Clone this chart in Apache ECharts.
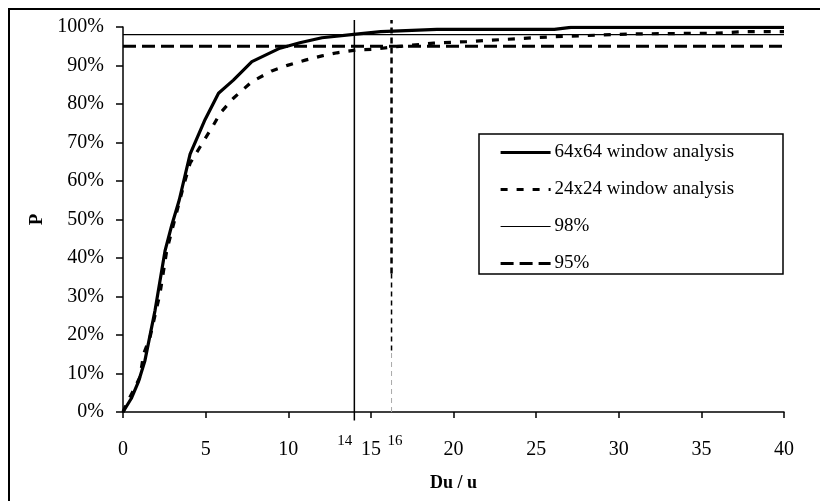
<!DOCTYPE html>
<html>
<head>
<meta charset="utf-8">
<script src="https://cdn.jsdelivr.net/npm/echarts@6.0.0/dist/echarts.min.js"></script>
<style>
  html, body { margin: 0; padding: 0; background: #fff; }
  #chart { width: 820px; height: 501px; }
</style>
</head>
<body>
<div id="chart"></div>
<script>
  // values
  const x64 = [0, 0.5, 0.93, 1.33, 1.94, 2.55, 2.95, 3.4, 4.06, 4.97, 5.78, 6.68, 7.8, 9.5, 10.7, 12.04, 13.96, 15.6, 19, 26.1, 27.1, 40];
  const p64 = [0, 3.5, 7.8, 13.4, 26.4, 42, 48.5, 55, 67, 76, 82.8, 86.2, 91, 94.5, 95.9, 97.2, 98.1, 98.8, 99.4, 99.4, 99.9, 99.9];
  const x24 = [0, 0.22, 0.63, 1.04, 1.24, 1.64, 2.24, 2.65, 2.95, 3.65, 4.06, 4.67, 5.47, 5.88, 6.68, 7.8, 9, 10, 11.03, 12.04, 12.95, 14.06, 15.15, 16.08, 18.8, 20.8, 23.2, 26.1, 30.9, 36, 37.6, 40];
  const p24 = [0, 2.2, 5.6, 9.2, 15, 19.5, 30.8, 42, 47, 58.5, 64.6, 68.9, 74.5, 77.6, 81.5, 85.8, 88.6, 90.1, 91.4, 92.5, 93.3, 94, 94.2, 94.7, 95.8, 96.2, 96.8, 97.5, 98.2, 98.4, 98.8, 98.8];
  const levels = [98, 95];          // horizontal reference lines (%)
  const crossX = [14, 16.25];       // where each curve crosses its level
  const crossLabels = ['14', '16'];
  const xRange = [0, 40];

  const font = 'Liberation Serif, Times New Roman, serif';
  const chart = echarts.init(document.getElementById('chart'));

  const zip = (xs, ys) => xs.map((x, i) => [x, ys[i]]);
  const black = { color: '#000' };

  const option = {
    animation: false,
    textStyle: { fontFamily: font, color: '#000' },
    grid: { left: 123, right: 36, top: 27, bottom: 89 },
    xAxis: {
      type: 'value', min: 0, max: 40, interval: 5,
      name: 'Du / u', nameLocation: 'middle', nameGap: 62,
      nameTextStyle: { fontFamily: font, fontSize: 18, fontWeight: 'bold', color: '#000' },
      axisLine: { lineStyle: { color: '#000', width: 1.5 } },
      axisTick: { length: 6, lineStyle: { color: '#000', width: 1.5 } },
      axisLabel: { fontFamily: font, fontSize: 20, color: '#000', margin: 28 },
      splitLine: { show: false }
    },
    yAxis: {
      type: 'value', min: 0, max: 100, interval: 10,
      name: 'P', nameLocation: 'middle', nameGap: 76, nameRotate: 90,
      nameTextStyle: { fontFamily: font, fontSize: 19, fontWeight: 'bold', color: '#000' },
      axisLine: { show: true, lineStyle: { color: '#000', width: 1.5 } },
      axisTick: { show: true, length: 7, lineStyle: { color: '#000', width: 1.5 } },
      axisLabel: { fontFamily: font, fontSize: 20, color: '#000', margin: 19, formatter: '{value}%' },
      splitLine: { show: false }
    },
    legend: {
      data: ['64x64 window analysis', '24x24 window analysis', '98%', '95%'],
      orient: 'vertical', left: 499, top: 143,
      itemWidth: 50, itemHeight: 20, itemGap: 18,
      padding: 0, z: 5,
      itemStyle: { opacity: 0 },
      lineStyle: { width: 'inherit' },
      textStyle: { fontFamily: font, fontSize: 19, color: '#000', padding: [0, 0, 0, -1] },
      selectedMode: false
    },
    series: [
      { name: '98%', type: 'line', symbol: 'none', z: 3, itemStyle: black,
        lineStyle: { color: '#000', width: 1.2 },
        data: xRange.map(x => [x, levels[0]]) },
      { name: '95%', type: 'line', symbol: 'none', z: 3, itemStyle: black,
        lineStyle: { color: '#000', width: 3, type: [13, 6] },
        data: xRange.map(x => [x, levels[1]]) },
      { name: 'v14', type: 'line', symbol: 'none', clip: false, z: 3, itemStyle: black,
        lineStyle: { color: '#000', width: 1.5 },
        data: [[crossX[0], -2.2], [crossX[0], 101.8]] },
      { name: 'v16a', type: 'line', symbol: 'none', clip: false, z: 3, itemStyle: black,
        lineStyle: { color: '#000', width: 2.5, type: [6, 4] },
        data: [[crossX[1], 36], [crossX[1], 101.8]] },
      { name: 'v16b', type: 'line', symbol: 'none', z: 3, itemStyle: black,
        lineStyle: { color: '#000', width: 1.5, type: [5, 4] },
        data: [[crossX[1], 16], [crossX[1], 36]] },
      { name: 'v16c', type: 'line', symbol: 'none', z: 3, itemStyle: black,
        lineStyle: { color: '#aaa', width: 1, type: [5, 4] },
        data: [[crossX[1], 0], [crossX[1], 16]] },
      { name: '24x24 window analysis', type: 'line', symbol: 'none', z: 4, itemStyle: black,
        lineStyle: { color: '#000', width: 3.2, type: [7, 9] },
        data: zip(x24, p24) },
      { name: '64x64 window analysis', type: 'line', symbol: 'none', z: 5, itemStyle: black,
        lineStyle: { color: '#000', width: 3.2 },
        data: zip(x64, p64) }
    ]
  };
  chart.setOption(option);

  // frame, legend box and the two small crossing labels under the x axis
  const base = chart.convertToPixel({ gridIndex: 0 }, [0, 0])[1];
  const labels = crossX.map((x, i) => {
    const px = chart.convertToPixel({ gridIndex: 0 }, [i === 0 ? x : Math.floor(x), 0])[0];
    return {
      type: 'text', x: i === 0 ? px - 2 : px, y: base + 22, z: 6,
      style: { text: crossLabels[i], fontFamily: font, fontSize: 15, fill: '#000',
               align: i === 0 ? 'right' : 'left', verticalAlign: 'top' }
    };
  });
  chart.setOption({
    graphic: [
      { type: 'polyline', shape: { points: [[9, 501], [9, 9], [820, 9]] },
        style: { fill: 'none', stroke: '#000', lineWidth: 2 }, silent: true },
      { type: 'rect', shape: { x: 479, y: 134, width: 304, height: 140 },
        style: { fill: '#fff', stroke: '#000', lineWidth: 1.5 }, z: 4, silent: true }
    ].concat(labels)
  });
</script>
</body>
</html>
